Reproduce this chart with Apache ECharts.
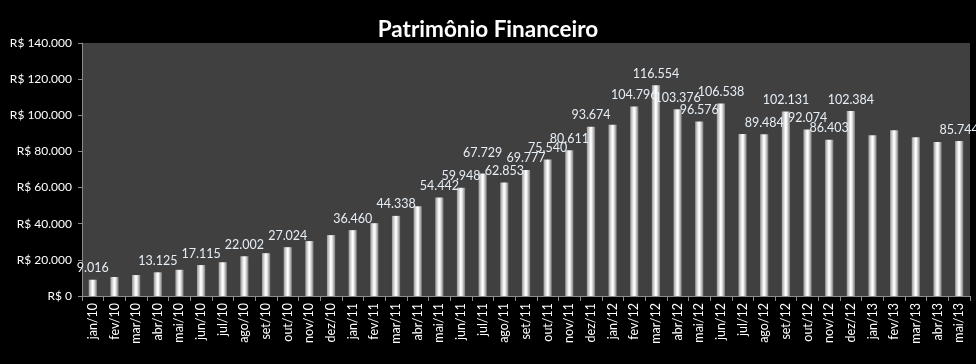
<!DOCTYPE html>
<html>
<head>
<meta charset="utf-8">
<script src="https://cdn.jsdelivr.net/npm/echarts@6/dist/echarts.min.js"></script>
<style>
html,body{margin:0;padding:0;background:#000;}
#chart{width:976px;height:364px;}
</style>
</head>
<body>
<div id="chart"></div>
<script>
const categories = ['jan/10','fev/10','mar/10','abr/10','mai/10','jun/10','jul/10','ago/10','set/10','out/10','nov/10','dez/10',
  'jan/11','fev/11','mar/11','abr/11','mai/11','jun/11','jul/11','ago/11','set/11','out/11','nov/11','dez/11',
  'jan/12','fev/12','mar/12','abr/12','mai/12','jun/12','jul/12','ago/12','set/12','out/12','nov/12','dez/12',
  'jan/13','fev/13','mar/13','abr/13','mai/13'];
const values = [9016,10500,11600,13125,14500,17115,18700,22002,23700,27024,30400,33700,
  36460,40300,44338,49700,54442,59948,67729,62853,69777,75540,80611,93674,
  94800,104796,116554,103376,96576,106538,89600,89484,102131,92074,86403,102384,
  88900,91700,87800,85200,85744];
const labelledCategories = ['jan/10','abr/10','jun/10','ago/10','out/10','jan/11','mar/11','mai/11','jun/11','jul/11','ago/11',
  'set/11','out/11','nov/11','dez/11','fev/12','mar/12','abr/12','mai/12','jun/12','ago/12','set/12','out/12','nov/12','dez/12','mai/13'];
const yTicks = [0,20000,40000,60000,80000,100000,120000,140000];

function fmt(v){ return String(Math.round(v)).replace(/\B(?=(\d{3})+(?!\d))/g,'.'); }

const labelSet = new Set(labelledCategories);
const seriesData = values.map((v,i)=>{
  const item = {value:v};
  if(!labelSet.has(categories[i])) item.label = {show:false};
  if(categories[i]==='jul/11') item.label = {show:true, distance:14};
  return item;
});

const chart = echarts.init(document.getElementById('chart'));
chart.setOption({
  backgroundColor:'#000000',
  animation:false,
  title:{
    text:'Patrimônio Financeiro',
    left:'center', top:13,
    textStyle:{color:'#ffffff', fontFamily:'Lato', fontWeight:'bold', fontSize:22.5}
  },
  grid:{left:82, right:6, top:43, bottom:68, show:true, backgroundColor:'#404040', borderWidth:0},
  xAxis:{
    type:'category',
    data:categories,
    axisLine:{lineStyle:{color:'#8c8c8c', width:1}},
    axisTick:{show:true, length:5, lineStyle:{color:'#8c8c8c'}},
    axisLabel:{rotate:90, color:'#ffffff', fontFamily:'Lato', fontSize:12.5, margin:7, interval:0}
  },
  yAxis:{
    type:'value',
    min:yTicks[0], max:yTicks[yTicks.length-1], interval:yTicks[1]-yTicks[0],
    axisLine:{show:true, lineStyle:{color:'#8c8c8c', width:1}},
    axisTick:{show:true, length:4, lineStyle:{color:'#8c8c8c'}},
    splitLine:{show:false},
    axisLabel:{color:'#ffffff', fontFamily:'Lato', fontSize:12, margin:10,
      formatter:v=>'R$ '+fmt(v)}
  },
  series:[{
    type:'bar',
    data:seriesData,
    barWidth:'38%',
    itemStyle:{
      color:new echarts.graphic.LinearGradient(0,0,1,0,[
        {offset:0,color:'#9a9a9a'},
        {offset:0.45,color:'#ffffff'},
        {offset:0.6,color:'#f2f2f2'},
        {offset:1,color:'#7a7a7a'}
      ])
    },
    label:{
      show:true, position:'top', distance:5,
      color:'#e6eef6', fontFamily:'Lato', fontSize:12.5,
      formatter:p=>fmt(p.value)
    }
  }]
});
</script>
</body>
</html>
